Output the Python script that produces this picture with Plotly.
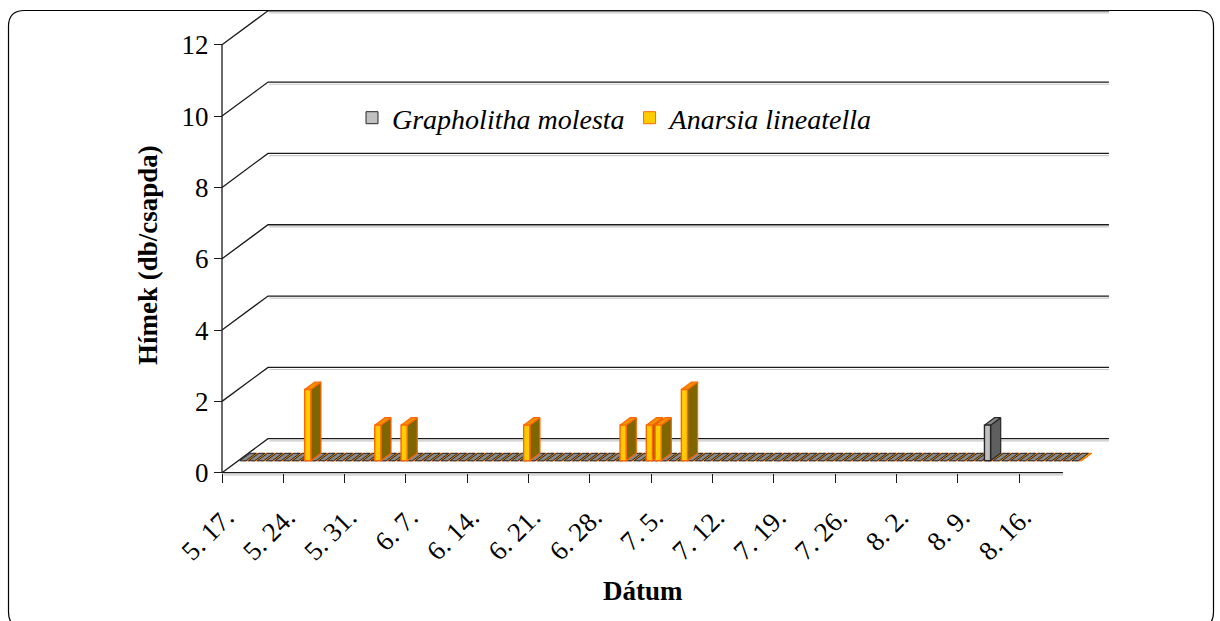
import plotly.graph_objects as go
import pandas as pd

# ---- data -------------------------------------------------------------
dates = pd.date_range("2009-05-17", "2009-08-20", freq="D")
categories = [f"{d.month}.{d.day}." for d in dates]

grapholitha = [
    0, 0, 0, 0, 0, 0, 0, 0, 0, 0, 0, 0, 0, 0, 0, 0,   # 5.17 - 6.1
    0, 0, 0, 0, 0, 0, 0, 0, 0, 0, 0, 0, 0, 0, 0, 0,   # 6.2 - 6.17
    0, 0, 0, 0, 0, 0, 0, 0, 0, 0, 0, 0, 0, 0, 0, 0,   # 6.18 - 7.3
    0, 0, 0, 0, 0, 0, 0, 0, 0, 0, 0, 0, 0, 0, 0, 0,   # 7.4 - 7.19
    0, 0, 0, 0, 0, 0, 0, 0, 0, 0, 0, 0, 0, 0, 0, 0,   # 7.20 - 8.4
    0, 0, 0, 0, 0, 1, 0, 0, 0, 0, 0, 0, 0, 0, 0, 0,   # 8.5 - 8.20
]
anarsia = [
    0, 0, 0, 0, 0, 0, 0, 2, 0, 0, 0, 0, 0, 0, 0, 1,   # 5.17 - 6.1
    0, 0, 1, 0, 0, 0, 0, 0, 0, 0, 0, 0, 0, 0, 0, 0,   # 6.2 - 6.17
    1, 0, 0, 0, 0, 0, 0, 0, 0, 0, 0, 1, 0, 0, 1, 1,   # 6.18 - 7.3
    0, 0, 2, 0, 0, 0, 0, 0, 0, 0, 0, 0, 0, 0, 0, 0,   # 7.4 - 7.19
    0, 0, 0, 0, 0, 0, 0, 0, 0, 0, 0, 0, 0, 0, 0, 0,   # 7.20 - 8.4
    0, 0, 0, 0, 0, 0, 0, 0, 0, 0, 0, 0, 0, 0, 0, 0,   # 8.5 - 8.20
]
tick_days = [0, 7, 14, 21, 28, 35, 42, 49, 56, 63, 70, 77, 84, 91]
tick_labels = ["5. 17.", "5. 24.", "5. 31.", "6. 7.", "6. 14.", "6. 21.", "6. 28.",
               "7. 5.", "7. 12.", "7. 19.", "7. 26.", "8. 2.", "8. 9.", "8. 16."]
y_ticks = [0, 2, 4, 6, 8, 10, 12]
series_names = ["Grapholitha molesta", "Anarsia lineatella"]

# ---- 3-D look: pixel geometry of the oblique projection ---------------
W, H = 1220, 621
X0PX, Y0PX = 222.0, 472.7       # front corner of the floor (day 0, value 0)
PXD, PXV = 8.76, 35.66          # pixels per day / per unit
DX, DY = 46 / PXD, 34 / PXV     # full depth of the box in data units
PL, PR, PT, PB = 212, 1116, 6, 480
N = len(categories)
YMAX = 12

x_range = [(PL - X0PX) / PXD, (PR - X0PX) / PXD]
y_range = [(Y0PX - PB) / PXV, (Y0PX - PT) / PXV]


def paper_x(p):
    return (p - PL) / (PR - PL)


def paper_y(p):
    return (PB - p) / (PB - PT)


FONT = "Liberation Serif, Times New Roman, serif"

# bar placement inside the box
D0, D1 = 0.35, 0.57             # front/back depth fraction of the columns
BAR_W = 0.7
OFFSETS = [0.55, 0.95]          # column centre within each day
STYLE = [
    dict(front="#C0C0C0", side="#5F5F5F", top="#8A8A8A", line="#262626"),
    dict(front="#FFCC00", side="#806600", top="#F29200", line="#FF6600"),
]

fig = go.Figure()

# back wall gridlines, their slanted returns and the front axes
gx, gy = [], []
for v in y_ticks:
    gx += [0, DX, N + DX, None]
    gy += [v, v + DY, v + DY, None]
gx += [0, N, None, 0, 0]
gy += [0, 0, None, 0, YMAX]
fig.add_trace(go.Scatter(x=gx, y=gy, mode="lines", line=dict(color="#1a1a1a", width=1.3),
                         hoverinfo="skip", showlegend=False))
sx, sy = [], []
for v in y_ticks:
    sx += [DX + 0.15, N + DX, None]
    sy += [v + DY - 0.06, v + DY - 0.06, None]
sx += [0.2, N, None]
sy += [-0.06, -0.06, None]
fig.add_trace(go.Scatter(x=sx, y=sy, mode="lines", line=dict(color="#c8c8c8", width=1.2),
                         hoverinfo="skip", showlegend=False))


def corners(i, s, v):
    l = i + OFFSETS[s] - BAR_W / 2
    r = l + BAR_W
    a0x, a0y, a1x, a1y = D0 * DX, D0 * DY, D1 * DX, D1 * DY
    front = [(l + a0x, a0y), (r + a0x, a0y), (r + a0x, v + a0y), (l + a0x, v + a0y)]
    side = [(r + a0x, a0y), (r + a1x, a1y), (r + a1x, v + a1y), (r + a0x, v + a0y)]
    top = [(l + a0x, v + a0y), (r + a0x, v + a0y), (r + a1x, v + a1y), (l + a1x, v + a1y)]
    return front, side, top


def poly_trace(polys, fill, line, lw=1.0):
    xs, ys = [], []
    for p in polys:
        xs += [q[0] for q in p] + [p[0][0], None]
        ys += [q[1] for q in p] + [p[0][1], None]
    return go.Scatter(x=xs, y=ys, mode="lines", fill="toself", fillcolor=fill,
                      line=dict(color=line, width=lw), hoverinfo="skip", showlegend=False)


series = [grapholitha, anarsia]

# the flat (zero) columns form the striped floor band
for s in (1, 0):
    tops = [corners(i, s, 0)[2] for i, v in enumerate(series[s]) if v == 0]
    fig.add_trace(poly_trace(tops, STYLE[s]["top"], STYLE[s]["line"], 1.0))

# raised columns, painted left to right
raised = sorted(((i + OFFSETS[s], i, s, v) for s, vals in enumerate(series)
                 for i, v in enumerate(vals) if v > 0))
for _, i, s, v in raised:
    front, side, top = corners(i, s, v)
    st = STYLE[s]
    fig.add_trace(poly_trace([side], st["side"], st["line"], 1.2))
    fig.add_trace(poly_trace([top], st["top"], st["line"], 1.2))
    fig.add_trace(poly_trace([front], st["front"], st["line"], 1.4))

# legend entries
for s, name in enumerate(series_names):
    fig.add_trace(go.Bar(x=[None], y=[None], name=name,
                         marker=dict(color=STYLE[s]["front"],
                                     line=dict(color=STYLE[s]["line"], width=1))))

# chart frame with rounded corners
fl, ft, fr, fb, rad = 8.5, 10.5, 1213.5, 628, 16
path = (f"M{paper_x(fl + rad)},{paper_y(ft)} L{paper_x(fr - rad)},{paper_y(ft)} "
        f"Q{paper_x(fr)},{paper_y(ft)} {paper_x(fr)},{paper_y(ft + rad)} "
        f"L{paper_x(fr)},{paper_y(fb - rad)} "
        f"Q{paper_x(fr)},{paper_y(fb)} {paper_x(fr - rad)},{paper_y(fb)} "
        f"L{paper_x(fl + rad)},{paper_y(fb)} "
        f"Q{paper_x(fl)},{paper_y(fb)} {paper_x(fl)},{paper_y(fb - rad)} "
        f"L{paper_x(fl)},{paper_y(ft + rad)} "
        f"Q{paper_x(fl)},{paper_y(ft)} {paper_x(fl + rad)},{paper_y(ft)} Z")

fig.update_layout(
    width=W, height=H,
    margin=dict(l=PL, r=W - PR, t=PT, b=H - PB),
    paper_bgcolor="white", plot_bgcolor="white",
    font=dict(family=FONT, color="black"),
    shapes=[dict(type="path", path=path, xref="paper", yref="paper",
                 line=dict(color="black", width=1.2), layer="below")],
    xaxis=dict(range=x_range, showgrid=False, zeroline=False, showline=False,
               tickmode="array", tickvals=tick_days, ticktext=tick_labels,
               ticks="outside", ticklen=9, tickcolor="#1a1a1a", tickwidth=1.2,
               tickangle=-45, tickfont=dict(size=27, family=FONT),
               ticklabelstandoff=8, ticklabelshift=4,
               anchor="free", position=paper_y(Y0PX)),
    yaxis=dict(range=y_range, showgrid=False, zeroline=False, showline=False,
               tickmode="array", tickvals=y_ticks,
               ticks="outside", ticklen=8, tickcolor="#1a1a1a", tickwidth=1.2,
               tickfont=dict(size=27, family=FONT),
               anchor="free", position=paper_x(X0PX)),
    legend=dict(orientation="h", x=paper_x(352), y=paper_y(118),
                xanchor="left", yanchor="middle", bgcolor="rgba(0,0,0,0)",
                font=dict(size=28, family=FONT, style="italic")),
    annotations=[
        dict(text="<b>Hímek (db/csapda)</b>", xref="paper", yref="paper",
             x=paper_x(148), y=paper_y(255), textangle=-90, showarrow=False,
             font=dict(size=27, family=FONT), xanchor="center", yanchor="middle"),
        dict(text="<b>Dátum</b>", xref="paper", yref="paper",
             x=paper_x(643), y=paper_y(591), showarrow=False,
             font=dict(size=27, family=FONT), xanchor="center", yanchor="middle"),
    ],
    showlegend=True,
)

fig.write_html("out.html")
